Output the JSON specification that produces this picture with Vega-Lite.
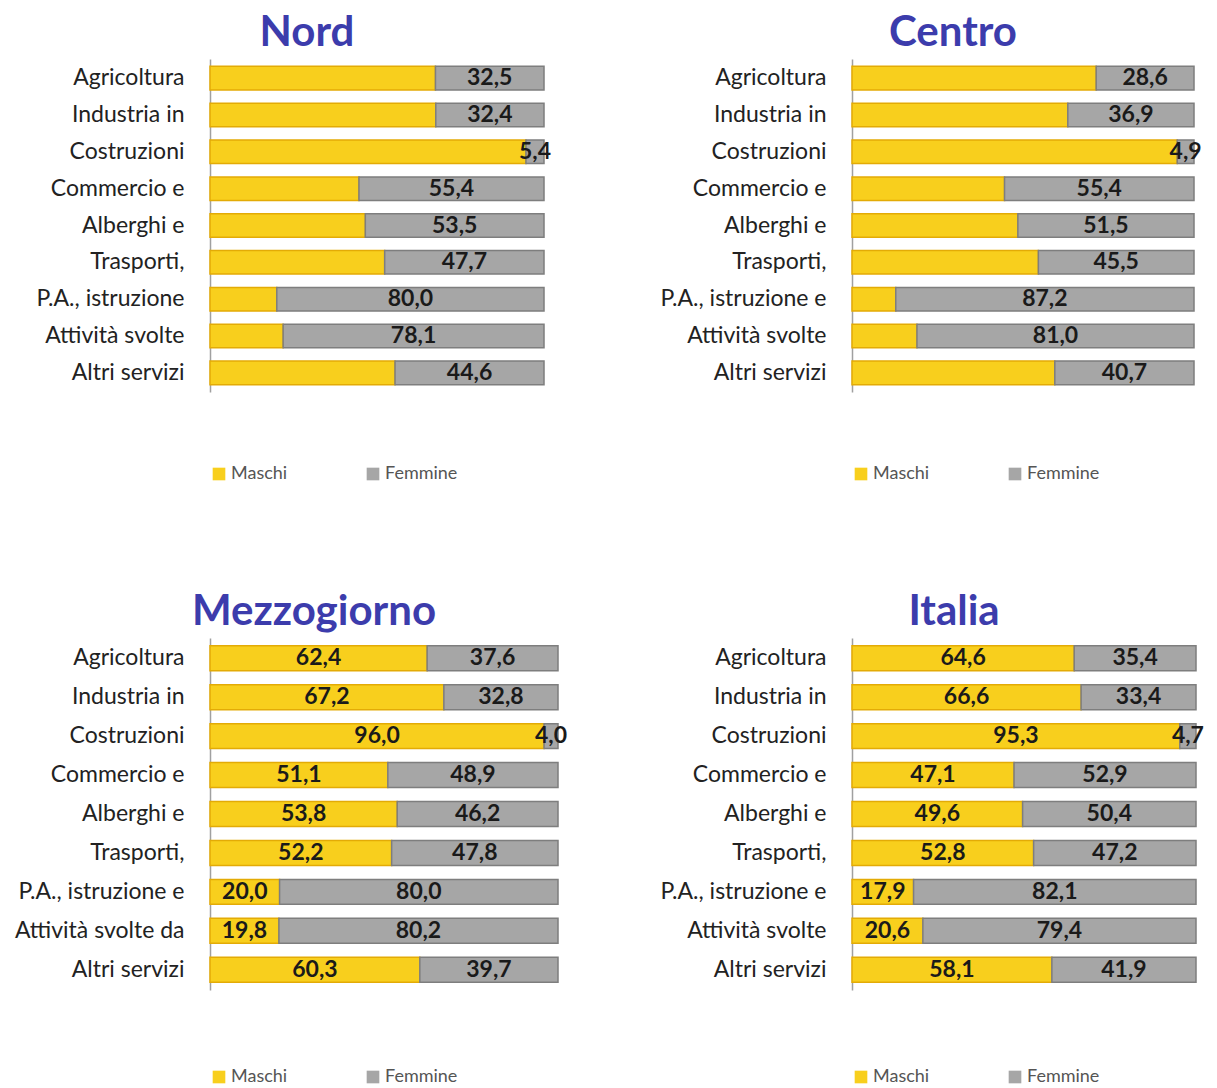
{
  "$schema": "https://vega.github.io/schema/vega-lite/v6.json",
  "padding": {"left": 14, "top": 12, "right": 2, "bottom": 2},
  "background": "white",
  "datasets": {
    "d": [
      {"p": "Nord", "i": 1, "s": "Agricoltura", "Maschi": 67.5, "Femmine": 32.5},
      {"p": "Nord", "i": 2, "s": "Industria in", "Maschi": 67.6, "Femmine": 32.4},
      {"p": "Nord", "i": 3, "s": "Costruzioni", "Maschi": 94.6, "Femmine": 5.4},
      {"p": "Nord", "i": 4, "s": "Commercio e", "Maschi": 44.6, "Femmine": 55.4},
      {"p": "Nord", "i": 5, "s": "Alberghi e", "Maschi": 46.5, "Femmine": 53.5},
      {"p": "Nord", "i": 6, "s": "Trasporti,", "Maschi": 52.3, "Femmine": 47.7},
      {"p": "Nord", "i": 7, "s": "P.A., istruzione", "Maschi": 20.0, "Femmine": 80.0},
      {"p": "Nord", "i": 8, "s": "Attività svolte", "Maschi": 21.9, "Femmine": 78.1},
      {"p": "Nord", "i": 9, "s": "Altri servizi", "Maschi": 55.4, "Femmine": 44.6},
      {"p": "Centro", "i": 1, "s": "Agricoltura", "Maschi": 71.4, "Femmine": 28.6},
      {"p": "Centro", "i": 2, "s": "Industria in", "Maschi": 63.1, "Femmine": 36.9},
      {"p": "Centro", "i": 3, "s": "Costruzioni", "Maschi": 95.1, "Femmine": 4.9},
      {"p": "Centro", "i": 4, "s": "Commercio e", "Maschi": 44.6, "Femmine": 55.4},
      {"p": "Centro", "i": 5, "s": "Alberghi e", "Maschi": 48.5, "Femmine": 51.5},
      {"p": "Centro", "i": 6, "s": "Trasporti,", "Maschi": 54.5, "Femmine": 45.5},
      {"p": "Centro", "i": 7, "s": "P.A., istruzione e", "Maschi": 12.8, "Femmine": 87.2},
      {"p": "Centro", "i": 8, "s": "Attività svolte", "Maschi": 19.0, "Femmine": 81.0},
      {"p": "Centro", "i": 9, "s": "Altri servizi", "Maschi": 59.3, "Femmine": 40.7},
      {"p": "Mezzogiorno", "i": 1, "s": "Agricoltura", "Maschi": 62.4, "Femmine": 37.6},
      {"p": "Mezzogiorno", "i": 2, "s": "Industria in", "Maschi": 67.2, "Femmine": 32.8},
      {"p": "Mezzogiorno", "i": 3, "s": "Costruzioni", "Maschi": 96.0, "Femmine": 4.0},
      {"p": "Mezzogiorno", "i": 4, "s": "Commercio e", "Maschi": 51.1, "Femmine": 48.9},
      {"p": "Mezzogiorno", "i": 5, "s": "Alberghi e", "Maschi": 53.8, "Femmine": 46.2},
      {"p": "Mezzogiorno", "i": 6, "s": "Trasporti,", "Maschi": 52.2, "Femmine": 47.8},
      {"p": "Mezzogiorno", "i": 7, "s": "P.A., istruzione e", "Maschi": 20.0, "Femmine": 80.0},
      {"p": "Mezzogiorno", "i": 8, "s": "Attività svolte da", "Maschi": 19.8, "Femmine": 80.2},
      {"p": "Mezzogiorno", "i": 9, "s": "Altri servizi", "Maschi": 60.3, "Femmine": 39.7},
      {"p": "Italia", "i": 1, "s": "Agricoltura", "Maschi": 64.6, "Femmine": 35.4},
      {"p": "Italia", "i": 2, "s": "Industria in", "Maschi": 66.6, "Femmine": 33.4},
      {"p": "Italia", "i": 3, "s": "Costruzioni", "Maschi": 95.3, "Femmine": 4.7},
      {"p": "Italia", "i": 4, "s": "Commercio e", "Maschi": 47.1, "Femmine": 52.9},
      {"p": "Italia", "i": 5, "s": "Alberghi e", "Maschi": 49.6, "Femmine": 50.4},
      {"p": "Italia", "i": 6, "s": "Trasporti,", "Maschi": 52.8, "Femmine": 47.2},
      {"p": "Italia", "i": 7, "s": "P.A., istruzione e", "Maschi": 17.9, "Femmine": 82.1},
      {"p": "Italia", "i": 8, "s": "Attività svolte", "Maschi": 20.6, "Femmine": 79.4},
      {"p": "Italia", "i": 9, "s": "Altri servizi", "Maschi": 58.1, "Femmine": 41.9}
    ]
  },
  "data": {"name": "d"},
  "vconcat": [
    {
      "hconcat": [
        {
          "title": {"text": "Nord", "dx": -70},
          "width": 334, "height": 333,
          "transform": [
            {"filter": "datum.p == 'Nord'"},
            {"fold": ["Maschi", "Femmine"], "as": ["sex", "v"]},
            {"stack": "v", "groupby": ["s"], "sort": [{"field": "sex", "order": "descending"}], "as": ["v0", "v1"]}
          ],
          "encoding": {"y": {"field": "s", "type": "nominal", "sort": {"field": "i"}, "title": null, "scale": {"paddingInner": 0.36, "paddingOuter": 0.2}}},
          "layer": [
            {"mark": {"type": "bar", "strokeWidth": 1.5},
             "encoding": {
               "x": {"field": "v0", "type": "quantitative", "scale": {"domain": [0, 100]}, "axis": null},
               "x2": {"field": "v1"},
               "color": {"field": "sex", "type": "nominal", "scale": {"domain": ["Maschi", "Femmine"], "range": ["#f8cf1d", "#a6a6a6"]}, "legend": {"offset": 73}},
               "stroke": {"condition": {"test": "datum.sex == 'Maschi'", "value": "#e3ab06"}, "value": "#7e7e7e"}
             }},
            {"transform": [{"filter": "datum.sex == 'Femmine'"}, {"calculate": "(datum.v0 + datum.v1) / 2", "as": "mid"}],
             "mark": {"type": "text", "fontWeight": "bold", "fontSize": 23, "color": "#1a1a1a"},
             "encoding": {
               "x": {"field": "mid", "type": "quantitative"},
               "text": {"field": "v", "type": "quantitative", "format": ".1f"}
             }}
          ]
        },
        {
          "title": {"text": "Centro", "dx": -70},
          "width": 342, "height": 333,
          "transform": [
            {"filter": "datum.p == 'Centro'"},
            {"fold": ["Maschi", "Femmine"], "as": ["sex", "v"]},
            {"stack": "v", "groupby": ["s"], "sort": [{"field": "sex", "order": "descending"}], "as": ["v0", "v1"]}
          ],
          "encoding": {"y": {"field": "s", "type": "nominal", "sort": {"field": "i"}, "title": null, "scale": {"paddingInner": 0.36, "paddingOuter": 0.2}}},
          "layer": [
            {"mark": {"type": "bar", "strokeWidth": 1.5},
             "encoding": {
               "x": {"field": "v0", "type": "quantitative", "scale": {"domain": [0, 100]}, "axis": null},
               "x2": {"field": "v1"},
               "color": {"field": "sex", "type": "nominal", "scale": {"domain": ["Maschi", "Femmine"], "range": ["#f8cf1d", "#a6a6a6"]}, "legend": {"offset": 73}},
               "stroke": {"condition": {"test": "datum.sex == 'Maschi'", "value": "#e3ab06"}, "value": "#7e7e7e"}
             }},
            {"transform": [{"filter": "datum.sex == 'Femmine'"}, {"calculate": "(datum.v0 + datum.v1) / 2", "as": "mid"}],
             "mark": {"type": "text", "fontWeight": "bold", "fontSize": 23, "color": "#1a1a1a"},
             "encoding": {
               "x": {"field": "mid", "type": "quantitative"},
               "text": {"field": "v", "type": "quantitative", "format": ".1f"}
             }}
          ]
        }
      ],
      "spacing": 108,
      "resolve": {"scale": {"color": "independent", "x": "independent", "y": "independent"}, "legend": {"color": "independent"}}
    },
    {
      "hconcat": [
        {
          "title": {"text": "Mezzogiorno", "dx": -70},
          "width": 348, "height": 352,
          "transform": [
            {"filter": "datum.p == 'Mezzogiorno'"},
            {"fold": ["Maschi", "Femmine"], "as": ["sex", "v"]},
            {"stack": "v", "groupby": ["s"], "sort": [{"field": "sex", "order": "descending"}], "as": ["v0", "v1"]}
          ],
          "encoding": {"y": {"field": "s", "type": "nominal", "sort": {"field": "i"}, "title": null, "scale": {"paddingInner": 0.36, "paddingOuter": 0.2}}},
          "layer": [
            {"mark": {"type": "bar", "strokeWidth": 1.5},
             "encoding": {
               "x": {"field": "v0", "type": "quantitative", "scale": {"domain": [0, 100]}, "axis": null},
               "x2": {"field": "v1"},
               "color": {"field": "sex", "type": "nominal", "scale": {"domain": ["Maschi", "Femmine"], "range": ["#f8cf1d", "#a6a6a6"]}, "legend": {"offset": 78}},
               "stroke": {"condition": {"test": "datum.sex == 'Maschi'", "value": "#e3ab06"}, "value": "#7e7e7e"}
             }},
            {"transform": [{"calculate": "(datum.v0 + datum.v1) / 2", "as": "mid"}],
             "mark": {"type": "text", "fontWeight": "bold", "fontSize": 23, "color": "#1a1a1a"},
             "encoding": {
               "x": {"field": "mid", "type": "quantitative"},
               "text": {"field": "v", "type": "quantitative", "format": ".1f"}
             }}
          ]
        },
        {
          "title": {"text": "Italia", "dx": -70},
          "width": 344, "height": 352,
          "transform": [
            {"filter": "datum.p == 'Italia'"},
            {"fold": ["Maschi", "Femmine"], "as": ["sex", "v"]},
            {"stack": "v", "groupby": ["s"], "sort": [{"field": "sex", "order": "descending"}], "as": ["v0", "v1"]}
          ],
          "encoding": {"y": {"field": "s", "type": "nominal", "sort": {"field": "i"}, "title": null, "scale": {"paddingInner": 0.36, "paddingOuter": 0.2}}},
          "layer": [
            {"mark": {"type": "bar", "strokeWidth": 1.5},
             "encoding": {
               "x": {"field": "v0", "type": "quantitative", "scale": {"domain": [0, 100]}, "axis": null},
               "x2": {"field": "v1"},
               "color": {"field": "sex", "type": "nominal", "scale": {"domain": ["Maschi", "Femmine"], "range": ["#f8cf1d", "#a6a6a6"]}, "legend": {"offset": 78}},
               "stroke": {"condition": {"test": "datum.sex == 'Maschi'", "value": "#e3ab06"}, "value": "#7e7e7e"}
             }},
            {"transform": [{"calculate": "(datum.v0 + datum.v1) / 2", "as": "mid"}],
             "mark": {"type": "text", "fontWeight": "bold", "fontSize": 23, "color": "#1a1a1a"},
             "encoding": {
               "x": {"field": "mid", "type": "quantitative"},
               "text": {"field": "v", "type": "quantitative", "format": ".1f"}
             }}
          ]
        }
      ],
      "spacing": 92,
      "resolve": {"scale": {"color": "independent", "x": "independent", "y": "independent"}, "legend": {"color": "independent"}}
    }
  ],
  "spacing": 108,
  "resolve": {"scale": {"color": "independent", "x": "independent", "y": "independent"}, "legend": {"color": "independent"}},
  "config": {
    "locale": {"number": {"decimal": ",", "thousands": ".", "grouping": [3], "currency": ["", "€"]}},
    "font": "Lato",
    "view": {"stroke": null},
    "title": {"fontSize": 42, "fontWeight": "bold", "color": "#3c3cac", "font": "Lato", "anchor": "middle", "offset": 0},
    "axisY": {"labelFontSize": 23, "labelColor": "#222222", "labelFont": "Lato", "ticks": false, "labelPadding": 26, "domainColor": "#a0a0a0", "domainWidth": 1.5, "grid": false, "labelLimit": 300},
    "legend": {"orient": "bottom", "direction": "horizontal", "title": null, "symbolType": "square", "symbolSize": 160, "symbolStrokeWidth": 0, "labelFontSize": 18, "labelColor": "#555555", "labelFont": "Lato", "labelOffset": 3, "columnPadding": 76}
  }
}
